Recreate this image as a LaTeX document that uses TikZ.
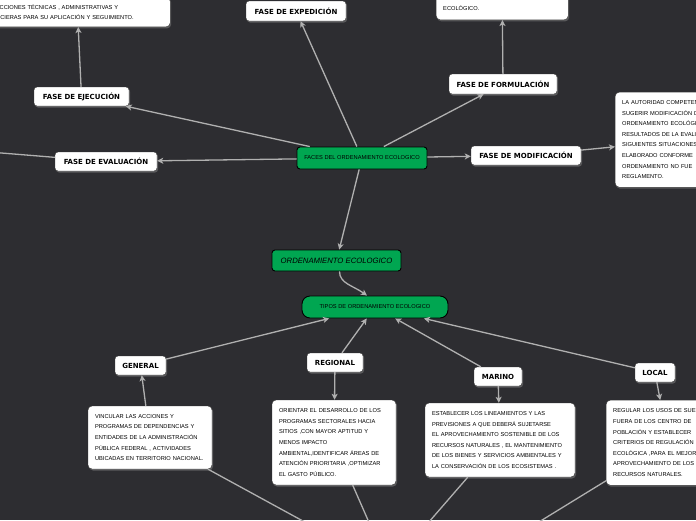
\documentclass[tikz,border=0pt]{standalone}
\usepackage{fontspec}
\setmainfont{Liberation Sans}
\newfontfamily\labelfont{DejaVu Sans}
\usetikzlibrary{arrows.meta,shadows}
\definecolor{fondo}{HTML}{2D2D31}
\definecolor{verde}{HTML}{00A651}
\definecolor{linea}{HTML}{B0B0B0}
\newcommand{\renglon}[1]{\mbox{#1}}
\begin{document}
\begin{tikzpicture}[x=1pt,y=-1pt,
  sombra/.style={drop shadow={opacity=0.55,shadow xshift=1pt,shadow yshift=-1.5pt}},
  lbl/.style={draw=black!80, fill=white, rounded corners=3pt, inner sep=0pt, sombra,
    font=\labelfont\bfseries\fontsize{7}{8}\selectfont},
  txtbox/.style={draw=black!80, fill=white, rounded corners=4pt, inner xsep=7pt, inner ysep=6pt,
    align=left, sombra, font=\fontsize{5.7}{10.6}\selectfont},
  verdebox/.style={draw=black, line width=0.9pt, fill=verde, rounded corners=3pt, inner sep=0pt,
    font=\fontsize{5.7}{7}\selectfont},
  arr/.style={draw=linea, line width=1.3pt, -{Stealth[length=6pt,width=6pt,inset=1.5pt]}},
  ln/.style={draw=linea, line width=1.3pt}]
\useasboundingbox (0,0) rectangle (696,520);
\fill[fondo] (0,0) rectangle (696,520);
\clip (0,0) rectangle (696,520);

% off-canvas ends
\coordinate (offl) at (-60,148);
\coordinate (hid) at (389,568);
\coordinate (hidb) at (464,568);

% cut-off boxes
\node[txtbox, anchor=south west, text width=180pt, inner ysep=7pt] (tlbox) at (-24,27)
  {\renglon{LAS ACCIONES TÉCNICAS , ADMINISTRATIVAS Y}\\\renglon{FINANCIERAS PARA SU APLICACIÓN Y SEGUIMIENTO.}};
\node[txtbox, anchor=south west, text width=118pt, inner ysep=9pt, text height=25pt] (trbox) at (436,20)
  {ECOLÓGICO.};
\node[txtbox, anchor=north west, text width=130pt, minimum height=95pt] (rbox) at (615,92)
  {\renglon{LA AUTORIDAD COMPETENTE}\\\renglon{SUGERIR MODIFICACIÓN DEL}\\\renglon{ORDENAMIENTO ECOLÓGICO}\\\renglon{RESULTADOS DE LA EVALUACIÓN}\\\renglon{SIGUIENTES SITUACIONES}\\\renglon{ELABORADO CONFORME}\\\renglon{ORDENAMIENTO NO FUE}\\\renglon{REGLAMENTO.}};

% phase labels
\node[lbl, minimum width=100pt, minimum height=20pt] (exped) at (296,11) {FASE DE EXPEDICIÓN};
\node[lbl, minimum width=95pt, minimum height=19pt] (ejec) at (81.5,96.5) {FASE DE EJECUCIÓN};
\node[lbl, minimum width=108pt, minimum height=20pt] (formu) at (503,84) {FASE DE FORMULACIÓN};
\node[lbl, minimum width=102pt, minimum height=19pt] (evalu) at (106,161.5) {FASE DE EVALUACIÓN};
\node[lbl, minimum width=110pt, minimum height=19pt] (modif) at (526,155.5) {FASE DE MODIFICACIÓN};

% green nodes
\node[verdebox, minimum width=130pt, minimum height=22pt] (faces) at (362,158) {FACES DEL ORDENAMIENTO ECOLOGICO};
\node[verdebox, minimum width=129pt, minimum height=21pt, font=\itshape\fontsize{7.7}{9}\selectfont] (ord) at (336.5,260.5) {ORDENAMIENTO ECOLOGICO};
\node[verdebox, minimum width=146pt, minimum height=22pt, rounded corners=8pt] (tipos) at (375,307) {TIPOS DE ORDENAMIENTO ECOLOGICO};

% type labels
\node[lbl, minimum width=51pt, minimum height=19pt] (gen) at (140.5,365.5) {GENERAL};
\node[lbl, minimum width=56pt, minimum height=19pt] (reg) at (335,362.5) {REGIONAL};
\node[lbl, minimum width=48pt, minimum height=19pt] (mar) at (498,376.5) {MARINO};
\node[lbl, minimum width=40pt, minimum height=19pt] (loc) at (655,372.5) {LOCAL};

% description boxes
\node[txtbox, text width=110pt, minimum height=63pt] (gbox) at (150,437.5)
  {\renglon{VINCULAR LAS ACCIONES Y}\\\renglon{PROGRAMAS DE DEPENDENCIAS Y}\\\renglon{ENTIDADES DE LA ADMINISTRACIÓN}\\\renglon{PÚBLICA FEDERAL , ACTIVIDADES}\\\renglon{UBICADAS EN TERRITORIO NACIONAL.}};
\node[txtbox, text width=110pt, minimum height=85pt] (regbox) at (334,442.5)
  {\renglon{ORIENTAR EL DESARROLLO DE LOS}\\\renglon{PROGRAMAS SECTORALES HACIA}\\\renglon{SITIOS ,CON MAYOR APTITUD Y}\\\renglon{MENOS IMPACTO}\\\renglon{AMBIENTAL,IDENTIFICAR ÁREAS DE}\\\renglon{ATENCIÓN PRIORITARIA ,OPTIMIZAR}\\\renglon{EL GASTO PÚBLICO.}};
\node[txtbox, text width=136pt, minimum height=74pt] (marbox) at (500,440)
  {\renglon{ESTABLECER LOS LINEAMIENTOS Y LAS}\\\renglon{PREVISIONES A QUE DEBERÁ SUJETARSE}\\\renglon{EL APROVECHAMIENTO SOSTENIBLE DE LOS}\\\renglon{RECURSOS NATURALES , EL MANTENIMIENTO}\\\renglon{DE LOS BIENES Y SERVICIOS AMBIENTALES Y}\\\renglon{LA CONSERVACIÓN DE LOS ECOSISTEMAS .}};
\node[txtbox, anchor=north west, text width=110pt, minimum height=85pt] (locbox) at (606,400)
  {\renglon{REGULAR LOS USOS DE SUELO}\\\renglon{FUERA DE LOS CENTRO DE}\\\renglon{POBLACIÓN Y ESTABLECER}\\\renglon{CRITERIOS DE REGULACIÓN}\\\renglon{ECOLÓGICA ,PARA EL MEJOR}\\\renglon{APROVECHAMIENTO DE LOS}\\\renglon{RECURSOS NATURALES.}};

% connectors
\draw[arr] (faces) -- (exped);
\draw[arr] (faces) -- (ejec);
\draw[arr] (faces) -- (evalu);
\draw[arr] (faces) -- (formu);
\draw[arr] (faces) -- (modif);
\draw[arr] (faces) -- (ord);
\draw[arr] ([xshift=3pt]ord.south) .. controls +(0,12) and +(-14,-10) .. ([xshift=-8pt]tipos.north);
\draw[arr] (ejec) -- ([xshift=5pt]tlbox.south);
\draw[arr] (formu) -- (trbox);
\draw[arr] (modif) -- (rbox);
\draw[ln] (evalu) -- (offl);

\draw[arr] (gen) -- (tipos);
\draw[arr] (reg) -- (tipos);
\draw[arr] (mar) -- (tipos);
\draw[arr] (loc) -- (tipos);

\draw[arr] (gbox) -- (gen);
\draw[arr] (reg) -- (regbox);
\draw[arr] (mar) -- (marbox);
\draw[arr] (loc) -- (locbox);

\draw[ln] (gbox) -- (hid);
\draw[ln] (regbox) -- (hid);
\draw[ln] (marbox) -- (hid);
\draw[ln] (locbox) -- (hidb);
\end{tikzpicture}
\end{document}
